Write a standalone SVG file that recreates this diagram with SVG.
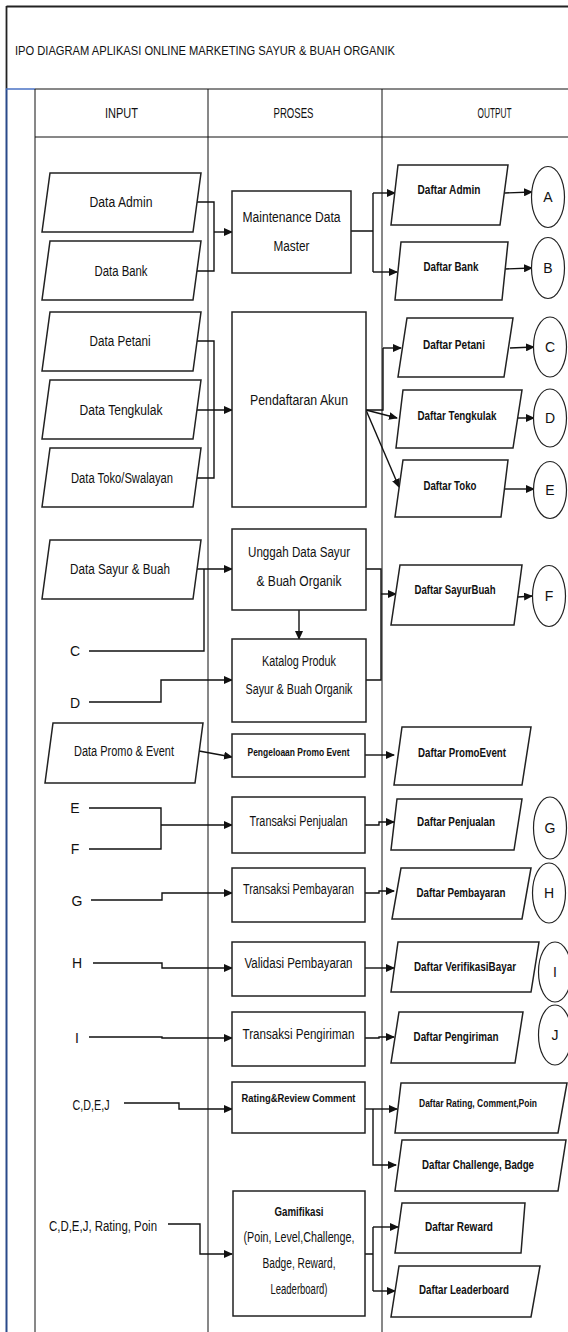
<svg xmlns="http://www.w3.org/2000/svg" width="568" height="1332" viewBox="0 0 568 1332">
<defs>
<marker id="ah" markerUnits="userSpaceOnUse" markerWidth="9" markerHeight="8" refX="8" refY="4" orient="auto">
<path d="M0,0 L9,4 L0,8 z" fill="#111"/>
</marker>
<style>
.frame{fill:none;stroke:#222;stroke-width:1.8}
.grid{fill:none;stroke:#111;stroke-width:1}
.shp{fill:#fff;stroke:#222;stroke-width:1.5}
.cir{fill:#fff;stroke:#222;stroke-width:1.2}
.cn{fill:none;stroke:#111;stroke-width:1.4}
.ar{fill:none;stroke:#111;stroke-width:1.4;marker-end:url(#ah)}
text{font-family:"Liberation Sans",Arial,sans-serif;fill:#111;text-anchor:middle}
.t{font-size:14px}
.b{font-size:12.5px;font-weight:bold}
.s{font-size:11px;font-weight:bold}
.h{font-size:14.5px}
.title{font-size:13.5px;text-anchor:start}
</style>
</defs>
<rect width="568" height="1332" fill="#fff"/>
<g id="frame">
<path class="frame" d="M6.5,6.5 H568"/>
<path class="frame" d="M6.5,6 V89"/>
<path d="M6.5,89 V1332" fill="none" stroke="#2a4a8a" stroke-width="2"/>
<path d="M6,89 H35" fill="none" stroke="#4a72c4" stroke-width="1.5"/>
<path class="grid" d="M35,89 H568 M35,137 H568 M35,89 V1332 M208,89 V1332 M382,89 V1332"/>
<text class="title" x="15" y="55" textLength="380" lengthAdjust="spacingAndGlyphs">IPO DIAGRAM APLIKASI ONLINE MARKETING SAYUR &amp; BUAH ORGANIK</text>
<text class="h" x="121.5" y="118" textLength="33" lengthAdjust="spacingAndGlyphs">INPUT</text>
<text class="h" x="293.5" y="118" textLength="40" lengthAdjust="spacingAndGlyphs">PROSES</text>
<text class="h" x="494.5" y="118" textLength="34" lengthAdjust="spacingAndGlyphs">OUTPUT</text>
</g>
<g id="connectors">
<path class="cn" d="M197,202 H214 V271 H197"/>
<path class="ar" d="M214,232 H232"/>
<path class="cn" d="M351,231 H373 M373,193 V272"/>
<path class="ar" d="M373,193 H395"/>
<path class="ar" d="M373,272 H397"/>
<path class="ar" d="M505,193 L532,192"/>
<path class="ar" d="M505,269 L532,268"/>
<path class="cn" d="M197,341 H214 V478 H197"/>
<path class="ar" d="M197,410 H232"/>
<path class="cn" d="M366,410 H383 V348"/>
<path class="ar" d="M383,348 H401"/>
<path class="ar" d="M366,410 L397,418"/>
<path class="ar" d="M366,410 L399,487"/>
<path class="ar" d="M510,348 L534,347"/>
<path class="ar" d="M517,418 H534"/>
<path class="ar" d="M505,489 H534"/>
<path class="ar" d="M197,569 H232"/>
<path class="cn" d="M89,651 H204 V569"/>
<path class="ar" d="M89,702 H161 V680 H232"/>
<path class="ar" d="M299,610 V639"/>
<path class="cn" d="M366,569 H381 V680 H366"/>
<path class="ar" d="M381,594 H396"/>
<path class="ar" d="M518,597 L532,596"/>
<path class="ar" d="M199,751 L232,757"/>
<path class="ar" d="M365,755 H394"/>
<path class="cn" d="M89,808 H161 V849 H89"/>
<path class="ar" d="M161,825 H232"/>
<path class="ar" d="M365,825 H379 V822 H394"/>
<path class="ar" d="M91,900 H162 V893 H232"/>
<path class="ar" d="M365,893 H379 V891 H394"/>
<path class="ar" d="M93,963 H162 V968 H232"/>
<path class="ar" d="M365,968 H394"/>
<path class="ar" d="M89,1037 H162 V1038 H232"/>
<path class="ar" d="M365,1038 H379 V1037 H394"/>
<path class="ar" d="M124,1103 H179 V1109 H232"/>
<path class="ar" d="M365,1109 H397"/>
<path class="ar" d="M373,1109 V1165 H396"/>
<path class="ar" d="M168,1224 H200 V1254 H232"/>
<path class="cn" d="M365,1254 H373 M373,1227 V1291"/>
<path class="ar" d="M373,1227 H398"/>
<path class="ar" d="M373,1291 H395"/>
</g>
<g id="in-admin"><polygon class="shp" points="50,173 201,173 193,232 42,232"/><text class="t" x="121" y="207" textLength="63" lengthAdjust="spacingAndGlyphs">Data Admin</text></g>
<g id="in-bank"><polygon class="shp" points="50,241 201,241 193,300 42,300"/><text class="t" x="121" y="276" textLength="53" lengthAdjust="spacingAndGlyphs">Data Bank</text></g>
<g id="in-petani"><polygon class="shp" points="50,312 201,312 193,371 42,371"/><text class="t" x="120" y="346" textLength="61" lengthAdjust="spacingAndGlyphs">Data Petani</text></g>
<g id="in-tengkulak"><polygon class="shp" points="50,380 201,380 193,439 42,439"/><text class="t" x="121" y="415" textLength="83" lengthAdjust="spacingAndGlyphs">Data Tengkulak</text></g>
<g id="in-toko"><polygon class="shp" points="50,448 201,448 193,507 42,507"/><text class="t" x="122" y="483" textLength="102" lengthAdjust="spacingAndGlyphs">Data Toko/Swalayan</text></g>
<g id="in-sayur"><polygon class="shp" points="50,540 201,540 193,599 42,599"/><text class="t" x="120" y="574" textLength="100" lengthAdjust="spacingAndGlyphs">Data Sayur &amp; Buah</text></g>
<g id="in-promo"><polygon class="shp" points="53,723 203,723 195,783 45,783"/><text class="t" x="124" y="756" textLength="100" lengthAdjust="spacingAndGlyphs">Data Promo &amp; Event</text></g>
<g id="lbl-c"><text class="t" x="75" y="656">C</text></g>
<g id="lbl-d"><text class="t" x="75" y="708">D</text></g>
<g id="lbl-e"><text class="t" x="75" y="813">E</text></g>
<g id="lbl-f"><text class="t" x="75" y="854">F</text></g>
<g id="lbl-g"><text class="t" x="77" y="906">G</text></g>
<g id="lbl-h"><text class="t" x="77" y="968">H</text></g>
<g id="lbl-i"><text class="t" x="77" y="1043">I</text></g>
<g id="lbl-cdej"><text class="t" x="91" y="1110" textLength="37" lengthAdjust="spacingAndGlyphs">C,D,E,J</text></g>
<g id="lbl-cdej2"><text class="t" x="103" y="1231" textLength="108" lengthAdjust="spacingAndGlyphs">C,D,E,J,  Rating, Poin</text></g>
<g id="p-maint"><rect class="shp" x="232" y="191" width="119" height="82"/><text class="t" x="291.5" y="222" textLength="98" lengthAdjust="spacingAndGlyphs">Maintenance Data</text><text class="t" x="291.5" y="251" textLength="36" lengthAdjust="spacingAndGlyphs">Master</text></g>
<g id="p-daftar"><rect class="shp" x="232" y="312" width="134" height="195"/><text class="t" x="299" y="405" textLength="98" lengthAdjust="spacingAndGlyphs">Pendaftaran Akun</text></g>
<g id="p-unggah"><rect class="shp" x="232" y="529" width="134" height="81"/><text class="t" x="299" y="557" textLength="102" lengthAdjust="spacingAndGlyphs">Unggah Data Sayur</text><text class="t" x="299" y="586" textLength="85" lengthAdjust="spacingAndGlyphs">&amp; Buah Organik</text></g>
<g id="p-katalog"><rect class="shp" x="232" y="639" width="134" height="83"/><text class="t" x="299" y="666" textLength="74" lengthAdjust="spacingAndGlyphs">Katalog Produk</text><text class="t" x="299" y="694" textLength="107" lengthAdjust="spacingAndGlyphs">Sayur &amp; Buah Organik</text></g>
<g id="p-promo"><rect class="shp" x="232" y="734" width="133" height="43"/><text class="s" x="298.5" y="756" textLength="102" lengthAdjust="spacingAndGlyphs">Pengeloaan Promo Event</text></g>
<g id="p-jual"><rect class="shp" x="232" y="797" width="133" height="56"/><text class="t" x="298.5" y="826" textLength="98" lengthAdjust="spacingAndGlyphs">Transaksi Penjualan</text></g>
<g id="p-bayar"><rect class="shp" x="232" y="868" width="133" height="54"/><text class="t" x="298.5" y="894" textLength="111" lengthAdjust="spacingAndGlyphs">Transaksi Pembayaran</text></g>
<g id="p-valid"><rect class="shp" x="232" y="942" width="133" height="54"/><text class="t" x="298.5" y="968" textLength="108" lengthAdjust="spacingAndGlyphs">Validasi Pembayaran</text></g>
<g id="p-kirim"><rect class="shp" x="232" y="1012" width="133" height="54"/><text class="t" x="298.5" y="1039" textLength="112" lengthAdjust="spacingAndGlyphs">Transaksi Pengiriman</text></g>
<g id="p-rating"><rect class="shp" x="232" y="1082" width="133" height="51"/><text class="s" x="298.5" y="1102" textLength="114" lengthAdjust="spacingAndGlyphs">Rating&amp;Review Comment</text></g>
<g id="p-gami"><rect class="shp" x="233" y="1191" width="132" height="125"/><text class="b" x="299" y="1216" textLength="49" lengthAdjust="spacingAndGlyphs">Gamifikasi</text><text class="t" x="299" y="1242" textLength="111" lengthAdjust="spacingAndGlyphs">(Poin, Level,Challenge,</text><text class="t" x="299" y="1268" textLength="73" lengthAdjust="spacingAndGlyphs">Badge, Reward,</text><text class="t" x="299" y="1294" textLength="57" lengthAdjust="spacingAndGlyphs">Leaderboard)</text></g>
<g id="o-admin"><polygon class="shp" points="398,165 508,165 500,225 391,225"/><text class="b" x="449" y="194" textLength="63" lengthAdjust="spacingAndGlyphs">Daftar Admin</text></g>
<g id="o-bank"><polygon class="shp" points="401,242 508,242 502,300 395,300"/><text class="b" x="451" y="271" textLength="55" lengthAdjust="spacingAndGlyphs">Daftar Bank</text></g>
<g id="o-petani"><polygon class="shp" points="407,318 513,318 504,377 398,377"/><text class="b" x="454" y="349" textLength="62" lengthAdjust="spacingAndGlyphs">Daftar Petani</text></g>
<g id="o-tengkulak"><polygon class="shp" points="403,390 522,390 513,448 396,448"/><text class="b" x="457" y="420" textLength="79" lengthAdjust="spacingAndGlyphs">Daftar Tengkulak</text></g>
<g id="o-toko"><polygon class="shp" points="403,460 508,460 501,517 395,517"/><text class="b" x="450" y="490" textLength="53" lengthAdjust="spacingAndGlyphs">Daftar Toko</text></g>
<g id="o-sayur"><polygon class="shp" points="400,565 522,565 514,625 391,625"/><text class="b" x="455" y="594" textLength="81" lengthAdjust="spacingAndGlyphs">Daftar SayurBuah</text></g>
<g id="o-promo"><polygon class="shp" points="402,727 531,727 522,785 394,785"/><text class="b" x="462" y="757" textLength="88" lengthAdjust="spacingAndGlyphs">Daftar PromoEvent</text></g>
<g id="o-jual"><polygon class="shp" points="397,799 522,799 514,850 391,850"/><text class="b" x="456" y="826" textLength="78" lengthAdjust="spacingAndGlyphs">Daftar Penjualan</text></g>
<g id="o-bayar"><polygon class="shp" points="401,868 531,868 522,919 392,919"/><text class="b" x="461" y="897" textLength="89" lengthAdjust="spacingAndGlyphs">Daftar Pembayaran</text></g>
<g id="o-verif"><polygon class="shp" points="398,942 539,942 531,992 391,992"/><text class="b" x="465" y="971" textLength="102" lengthAdjust="spacingAndGlyphs">Daftar VerifikasiBayar</text></g>
<g id="o-kirim"><polygon class="shp" points="399,1012 523,1012 515,1063 391,1063"/><text class="b" x="456" y="1041" textLength="85" lengthAdjust="spacingAndGlyphs">Daftar Pengiriman</text></g>
<g id="o-rating"><polygon class="shp" points="401,1083 567,1083 558,1133 395,1133"/><text class="b" x="478" y="1107" font-size="11" style="font-size:11px" textLength="118" lengthAdjust="spacingAndGlyphs">Daftar Rating, Comment,Poin</text></g>
<g id="o-challenge"><polygon class="shp" points="402,1140 566,1140 558,1191 395,1191"/><text class="b" x="478" y="1169" textLength="112" lengthAdjust="spacingAndGlyphs">Daftar Challenge, Badge</text></g>
<g id="o-reward"><polygon class="shp" points="402,1203 525,1203 521,1253 395,1253"/><text class="b" x="459" y="1231" textLength="68" lengthAdjust="spacingAndGlyphs">Daftar Reward</text></g>
<g id="o-leader"><polygon class="shp" points="399,1266 540,1266 531,1317 391,1317"/><text class="b" x="464" y="1294" textLength="90" lengthAdjust="spacingAndGlyphs">Daftar Leaderboard</text></g>
<g id="c-a"><ellipse class="cir" cx="548" cy="197" rx="16.5" ry="30.5"/><text class="t" x="548" y="202">A</text></g>
<g id="c-b"><ellipse class="cir" cx="548" cy="268" rx="16.5" ry="30.5"/><text class="t" x="548" y="273">B</text></g>
<g id="c-c"><ellipse class="cir" cx="550" cy="347" rx="16.5" ry="30"/><text class="t" x="550" y="352">C</text></g>
<g id="c-d"><ellipse class="cir" cx="550" cy="418" rx="16.5" ry="29"/><text class="t" x="550" y="423">D</text></g>
<g id="c-e"><ellipse class="cir" cx="550" cy="490" rx="16.5" ry="28.5"/><text class="t" x="550" y="495">E</text></g>
<g id="c-f"><ellipse class="cir" cx="549" cy="596" rx="16.5" ry="30.5"/><text class="t" x="549" y="601">F</text></g>
<g id="c-g"><ellipse class="cir" cx="550" cy="828" rx="16.5" ry="31"/><text class="t" x="550" y="833">G</text></g>
<g id="c-h"><ellipse class="cir" cx="549" cy="893" rx="16.5" ry="30"/><text class="t" x="549" y="898">H</text></g>
<g id="c-i"><ellipse class="cir" cx="555" cy="972" rx="16.5" ry="30"/><text class="t" x="555" y="977">I</text></g>
<g id="c-j"><ellipse class="cir" cx="555" cy="1035" rx="16.5" ry="30"/><text class="t" x="555" y="1040">J</text></g>
</svg>
